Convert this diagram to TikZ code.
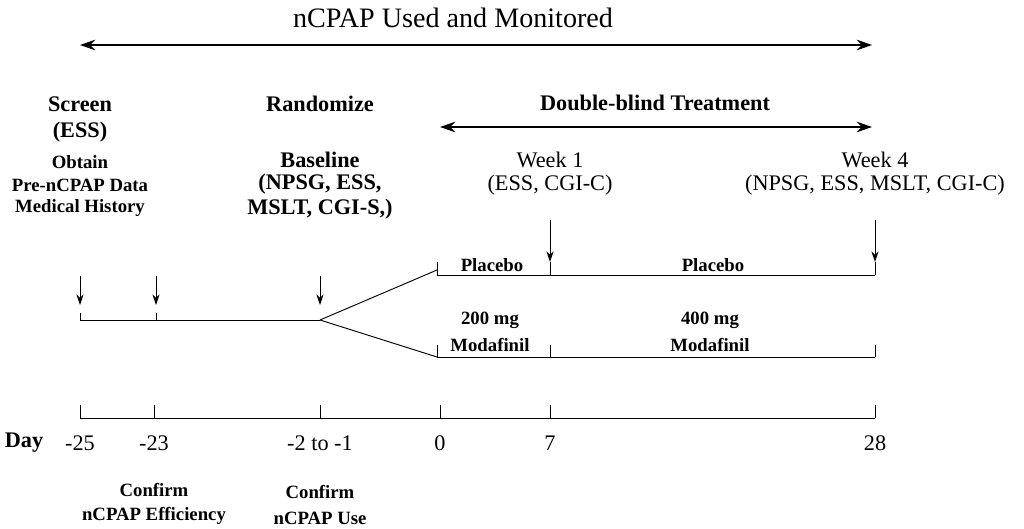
\documentclass[tikz,border=0pt]{standalone}
\usepackage{fontspec}
\setmainfont{Liberation Serif}
\usetikzlibrary{arrows.meta}
\begin{document}
\begin{tikzpicture}[x=0.03cm,y=-0.03cm,
  lbl/.style={font=\bfseries\fontsize{19}{21}\selectfont, inner sep=0pt},
  lblr/.style={font=\fontsize{19}{21}\selectfont, inner sep=0pt},
  sm/.style={font=\bfseries\fontsize{16}{18}\selectfont, inner sep=0pt},
  ln/.style={line width=0.8pt},
  dar/.style={line width=0.8pt,-{Stealth[length=9pt,width=6pt]}},
  big/.style={line width=1.8pt,{Stealth[length=13pt,width=9pt]}-{Stealth[length=13pt,width=9pt]}}]
\useasboundingbox (0,0) rectangle (1024,529);
\node[lblr,font=\fontsize{24}{26}\selectfont] (t) at (453,18) {nCPAP Used and Monitored};
\coordinate (a1) at (80,45); \coordinate (a2) at (872,45);
\draw[big] (a1) -- (a2);
\node[lbl] (s1) at (80,104) {Screen};
\node[lbl] (s2) at (80,132) {(ESS)};
\node[sm] (s3) at (80,162) {Obtain};
\node[sm] (s4) at (80,185) {Pre-nCPAP Data};
\node[sm] (s5) at (80,208) {Medical History};
\node[lbl] (r) at (320,104) {Randomize};
\node[lbl] (db) at (655,103) {Double-blind Treatment};
\coordinate (b1) at (440,127); \coordinate (b2) at (872,127);
\draw[big] (b1) -- (b2);
\node[lbl] (bl1) at (320,160) {Baseline};
\node[lbl] (bl2) at (320,184) {(NPSG, ESS,};
\node[lbl] (bl3) at (320,209) {MSLT, CGI-S,)};
\node[lblr] (w1) at (550,160) {Week 1};
\node[lblr] (w1b) at (550,185) {(ESS, CGI-C)};
\node[lblr] (w4) at (875,160) {Week 4};
\node[lblr] (w4b) at (875,185) {(NPSG, ESS, MSLT, CGI-C)};
\foreach \x/\n in {80/d1,156/d2,320/d3}{
  \coordinate (\n s) at (\x,276); \coordinate (\n e) at (\x,305);
  \draw[dar] (\n s) -- (\n e);}
\foreach \x/\n in {550/d4,875/d5}{
  \coordinate (\n s) at (\x,220); \coordinate (\n e) at (\x,262);
  \draw[dar] (\n s) -- (\n e);}
\coordinate (p0) at (80,320); \coordinate (p1) at (320,320);
\draw[ln] (p0) -- (p1);
\foreach \x in {80,156} \draw[ln] (\x,320) -- (\x,313);
\coordinate (u0) at (437,270); \coordinate (l0) at (437,357);
\draw[ln] (p1) -- (u0); \draw[ln] (p1) -- (l0);
\coordinate (u1) at (875,275); \coordinate (l1) at (875,357);
\draw[ln] (437,275) -- (u1);
\draw[ln] (l0) -- (l1);
\foreach \x in {437,550,875}{\draw[ln] (\x,275) -- (\x,262); \draw[ln] (\x,357) -- (\x,345);}
\node[sm] (pl1) at (492,265) {Placebo};
\node[sm] (pl2) at (713,265) {Placebo};
\node[sm] (m1) at (490,320) {200 mg};
\node[sm] (m1b) at (490,345) {Modafinil};
\node[sm] (m2) at (710,320) {400 mg};
\node[sm] (m2b) at (710,345) {Modafinil};
\coordinate (q0) at (80,418); \coordinate (q1) at (875,418);
\draw[ln] (q0) -- (q1);
\foreach \x in {80,154,320,440,550,875} \draw[ln] (\x,418) -- (\x,405);
\node[lbl] (day) at (24,443) {Day};
\foreach \x/\t in {80/-25,154/-23,320/-2 to -1,440/0,550/7,875/28}
  \node[lblr] at (\x,443) {\t};
\node[sm] (c1) at (154,490) {Confirm};
\node[sm] (c1b) at (154,516) {nCPAP Efficiency};
\node[sm] (c2) at (320,492) {Confirm};
\node[sm] (c2b) at (320,518) {nCPAP Use};
\end{tikzpicture}
\end{document}
